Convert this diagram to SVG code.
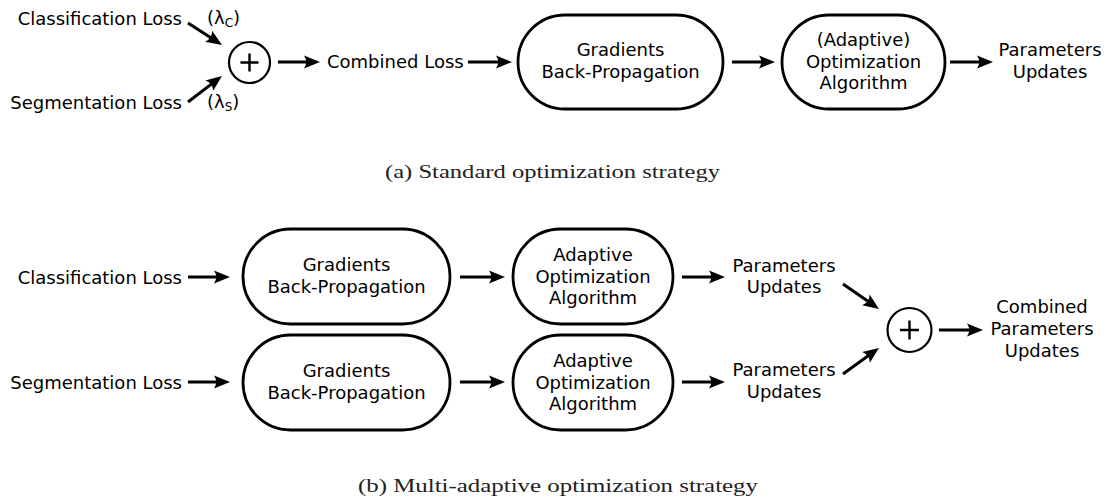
<svg xmlns="http://www.w3.org/2000/svg" width="1105" height="504" viewBox="0 0 1105 504">
<style>
  .t { font-family: "DejaVu Sans", sans-serif; font-size: 18px; fill: #000; }
  .c { text-anchor: middle; }
  .e { text-anchor: end; }
  .box { fill: #fff; stroke: #000; stroke-width: 2.8; }
  .sum { fill: #fff; stroke: #000; stroke-width: 2.2; }
  .plus { stroke: #000; stroke-width: 2.4; fill: none; }
  .cap { font-family: "Liberation Serif", "Times New Roman", serif; font-size: 19px; fill: #222; text-anchor: middle; }
  .ln { stroke: #000; stroke-width: 3; fill: none; marker-end: url(#ah); }
</style>
<defs>
  <marker id="ah" markerUnits="userSpaceOnUse" markerWidth="20" markerHeight="16" viewBox="-1 -8 20 16" refX="10" refY="0" orient="auto">
    <path d="M0,-6.5 L16,0 L0,6.5 Q4.5,0 0,-6.5 Z" fill="#000"/>
  </marker>
</defs>

<g id="connectors">
  <line class="ln" x1="188" y1="23" x2="217" y2="41.7"/>
  <line class="ln" x1="188" y1="102" x2="217.2" y2="79.6"/>
  <line class="ln" x1="278" y1="62" x2="314" y2="62"/>
  <line class="ln" x1="468" y1="62" x2="506" y2="62"/>
  <line class="ln" x1="732" y1="62" x2="769" y2="62"/>
  <line class="ln" x1="950" y1="62" x2="987" y2="62"/>

  <line class="ln" x1="188" y1="277" x2="224" y2="277"/>
  <line class="ln" x1="188" y1="382" x2="224" y2="382"/>
  <line class="ln" x1="460" y1="277" x2="499" y2="277"/>
  <line class="ln" x1="460" y1="382" x2="499" y2="382"/>
  <line class="ln" x1="682" y1="277" x2="719" y2="277"/>
  <line class="ln" x1="682" y1="382" x2="719" y2="382"/>
  <line class="ln" x1="843" y1="284" x2="874.1" y2="305.6"/>
  <line class="ln" x1="843" y1="374" x2="874.1" y2="351.5"/>
  <line class="ln" x1="939" y1="330" x2="977" y2="330"/>
</g>

<g id="a-classification-loss"><text class="t e" x="182" y="25">Classification Loss</text></g>
<g id="a-lambda-c"><text class="t" x="207" y="24">(λ<tspan font-size="12" dy="3">C</tspan><tspan dy="-3">)</tspan></text></g>
<g id="a-segmentation-loss"><text class="t e" x="182" y="109">Segmentation Loss</text></g>
<g id="a-lambda-s"><text class="t" x="207" y="108">(λ<tspan font-size="12" dy="3">S</tspan><tspan dy="-3">)</tspan></text></g>
<g id="a-sum">
  <circle class="sum" cx="249.5" cy="62.5" r="20.5"/>
  <path class="plus" d="M240.5,62.5 H258.5 M249.5,53.5 V71.5"/>
</g>
<g id="a-combined-loss"><text class="t" x="327" y="68">Combined Loss</text></g>
<g id="a-backprop">
  <rect class="box" x="518" y="15" width="205" height="94" rx="47" ry="47"/>
  <text class="t c" x="620.5" y="55.5">Gradients</text>
  <text class="t c" x="620.5" y="77.5">Back-Propagation</text>
</g>
<g id="a-optim">
  <rect class="box" x="782" y="15" width="163" height="94" rx="47" ry="47"/>
  <text class="t c" x="863.5" y="46">(Adaptive)</text>
  <text class="t c" x="863.5" y="67.5">Optimization</text>
  <text class="t c" x="863.5" y="89">Algorithm</text>
</g>
<g id="a-updates">
  <text class="t c" x="1050" y="56">Parameters</text>
  <text class="t c" x="1050" y="77.5">Updates</text>
</g>
<g id="caption-a"><text class="cap" x="552.5" y="178" textLength="335" lengthAdjust="spacingAndGlyphs">(a) Standard optimization strategy</text></g>

<g id="b-classification-loss"><text class="t e" x="182" y="284">Classification Loss</text></g>
<g id="b-segmentation-loss"><text class="t e" x="182" y="388.5">Segmentation Loss</text></g>
<g id="b-backprop-1">
  <rect class="box" x="243" y="229" width="207" height="95" rx="47.5" ry="47.5"/>
  <text class="t c" x="346.5" y="270.5">Gradients</text>
  <text class="t c" x="346.5" y="292.5">Back-Propagation</text>
</g>
<g id="b-backprop-2">
  <rect class="box" x="243" y="335" width="207" height="95" rx="47.5" ry="47.5"/>
  <text class="t c" x="346.5" y="376.5">Gradients</text>
  <text class="t c" x="346.5" y="398.5">Back-Propagation</text>
</g>
<g id="b-optim-1">
  <rect class="box" x="513" y="229" width="160" height="95" rx="47.5" ry="47.5"/>
  <text class="t c" x="593" y="261">Adaptive</text>
  <text class="t c" x="593" y="282.5">Optimization</text>
  <text class="t c" x="593" y="304">Algorithm</text>
</g>
<g id="b-optim-2">
  <rect class="box" x="513" y="335" width="160" height="95" rx="47.5" ry="47.5"/>
  <text class="t c" x="593" y="367">Adaptive</text>
  <text class="t c" x="593" y="388.5">Optimization</text>
  <text class="t c" x="593" y="410">Algorithm</text>
</g>
<g id="b-updates-1">
  <text class="t c" x="784" y="271.5">Parameters</text>
  <text class="t c" x="784" y="293">Updates</text>
</g>
<g id="b-updates-2">
  <text class="t c" x="784" y="375.5">Parameters</text>
  <text class="t c" x="784" y="397.5">Updates</text>
</g>
<g id="b-sum">
  <circle class="sum" cx="909.5" cy="330" r="22"/>
  <path class="plus" d="M900,330 H919 M909.5,320.5 V339.5"/>
</g>
<g id="b-combined-updates">
  <text class="t c" x="1042" y="313">Combined</text>
  <text class="t c" x="1042" y="334.5">Parameters</text>
  <text class="t c" x="1042" y="357">Updates</text>
</g>
<g id="caption-b"><text class="cap" x="558" y="492" textLength="400" lengthAdjust="spacingAndGlyphs">(b) Multi-adaptive optimization strategy</text></g>
</svg>
